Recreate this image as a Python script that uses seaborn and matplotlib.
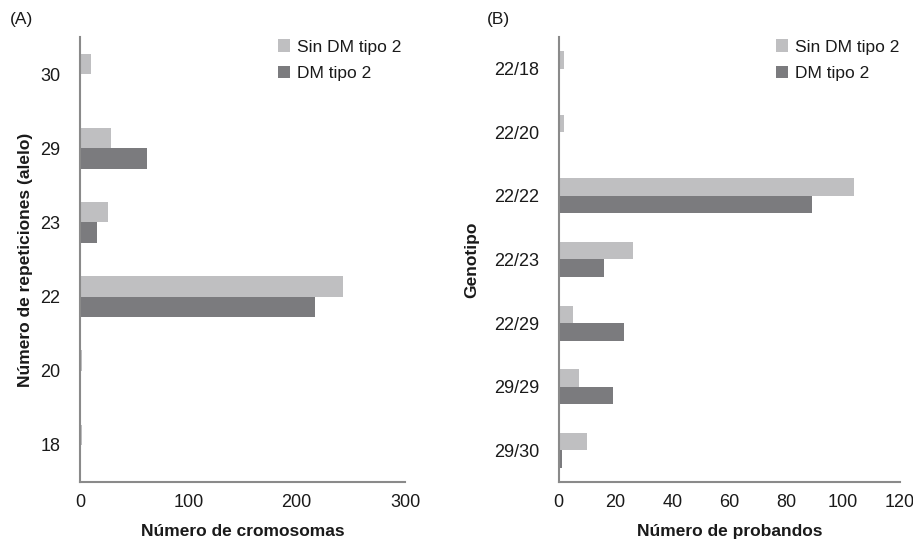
import numpy as np
import pandas as pd
import matplotlib
matplotlib.use("Agg")
import matplotlib.pyplot as plt
from matplotlib.ticker import FixedLocator
import seaborn as sns

sns.set_style("white")
plt.rcParams["font.family"] = ["Liberation Sans", "DejaVu Sans"]
plt.rcParams["text.color"] = "#1a1a1a"
plt.rcParams["axes.labelcolor"] = "#1a1a1a"
plt.rcParams["xtick.color"] = "#1a1a1a"
plt.rcParams["ytick.color"] = "#1a1a1a"

# Panel A: allele repeat counts
alleles = ["30", "29", "23", "22", "20", "18"]
alelo_sin_dm = [10, 29, 26, 243, 2, 2]
alelo_dm = [0, 62, 16, 217, 0, 0]

# Panel B: genotypes
genotipos = ["22/18", "22/20", "22/22", "22/23", "22/29", "29/29", "29/30"]
geno_sin_dm = [2, 2, 104, 26, 5, 7, 10]
geno_dm = [0, 0, 89, 16, 23, 19, 1]

series_names = ["Sin DM tipo 2", "DM tipo 2"]
palette = {"Sin DM tipo 2": "#bfbfc1", "DM tipo 2": "#7b7b7e"}
spine_color = "#8a8a8a"


def long_table(cats, a, b):
    return pd.DataFrame({
        "cat": cats * 2,
        "val": list(a) + list(b),
        "grupo": [series_names[0]] * len(cats) + [series_names[1]] * len(cats),
    })


def draw_panel(ax, cats, a, b, xmax, xstep, xlabel, ylabel, ylabelpad, leg_x):
    df = long_table(cats, a, b)
    sns.barplot(data=df, y="cat", x="val", hue="grupo", order=cats,
                hue_order=series_names, palette=palette, orient="h",
                width=0.55, ax=ax, errorbar=None, saturation=1, linewidth=0)
    n = len(cats)
    ax.set_ylim(n - 0.5, -0.5)
    ax.set_xlim(0, xmax)
    ax.set_xticks(np.arange(0, xmax + 1, xstep))
    ax.yaxis.set_minor_locator(FixedLocator(np.arange(-0.5, n, 1.0)))
    ax.tick_params(axis="y", which="major", length=0, labelsize=13, pad=14)
    ax.tick_params(axis="y", which="minor", length=6, color=spine_color,
                   direction="out", width=1.2)
    ax.tick_params(axis="x", which="major", length=6, color=spine_color,
                   direction="inout", width=1.2, labelsize=13, pad=6)
    for s in ["top", "right"]:
        ax.spines[s].set_visible(False)
    for s in ["left", "bottom"]:
        ax.spines[s].set_color(spine_color)
        ax.spines[s].set_linewidth(1.5)
    ax.set_xlabel(xlabel, fontsize=12.5, fontweight="bold", labelpad=9)
    ax.set_ylabel(ylabel, fontsize=12.5, fontweight="bold", labelpad=ylabelpad)
    leg = ax.legend(loc="upper right", frameon=False, fontsize=12.5,
                    handlelength=0.7, handleheight=0.7, handletextpad=0.4,
                    labelspacing=0.65, borderaxespad=0.0,
                    bbox_to_anchor=(leg_x, 1.01))
    return leg


fig = plt.figure(figsize=(9.13, 5.44), dpi=100)
ax1 = fig.add_axes([0.0876, 0.114, 0.356, 0.818])
ax2 = fig.add_axes([0.612, 0.114, 0.3735, 0.818])

draw_panel(ax1, alleles, alelo_sin_dm, alelo_dm, 300, 100,
           "Número de cromosomas", "Número de repeticiones (alelo)", 5, 1.01)
draw_panel(ax2, genotipos, geno_sin_dm, geno_dm, 120, 20,
           "Número de probandos", "Genotipo", 11, 1.02)

fig.text(0.011, 0.955, "(A)", fontsize=12.5)
fig.text(0.533, 0.955, "(B)", fontsize=12.5)

fig.savefig("out.png", dpi=100)
